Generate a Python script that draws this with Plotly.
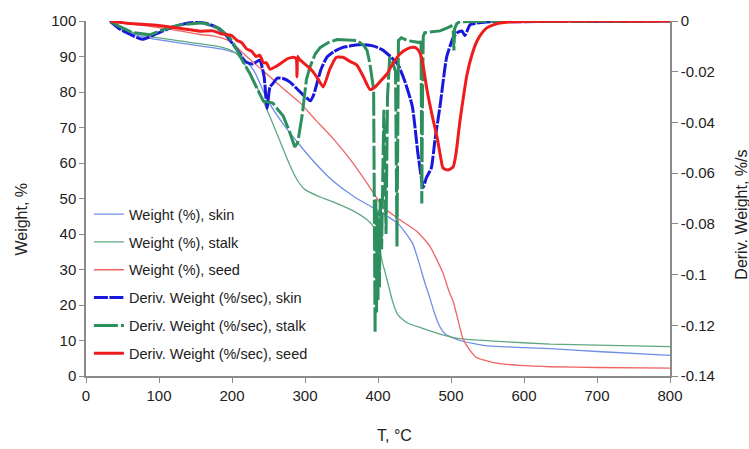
import plotly.graph_objects as go

# ---------------- data ----------------
# Weight (%) curves
T_skin_w = [33, 50, 83, 142, 188, 211, 230, 248, 270, 293, 316, 338, 368, 400, 427, 447, 456, 464, 471, 478, 485, 492, 502, 512, 530, 550, 600, 636, 700, 800]
W_skin = [99.5, 97.5, 95.3, 93.4, 92.0, 90.4, 86.0, 78.0, 71.0, 65.0, 59.5, 55.0, 50.4, 46.6, 43.0, 37.5, 32.0, 26.4, 22.0, 17.3, 13.8, 11.8, 10.8, 10.0, 9.2, 8.5, 8.0, 7.7, 6.9, 5.8]

T_stalk_w = [33, 50, 83, 142, 188, 205, 220, 235, 248, 262, 279, 290, 300, 320, 345, 368, 385, 394, 398, 402, 406, 410, 415, 420, 427, 440, 460, 490, 512, 560, 636, 700, 800]
W_stalk = [99.5, 97.8, 95.8, 94.0, 92.5, 91.0, 87.0, 81.0, 75.0, 68.0, 59.5, 55.0, 52.5, 50.5, 48.5, 46.3, 44.0, 42.0, 39.5, 36.0, 32.0, 29.0, 25.0, 21.0, 17.3, 15.0, 13.5, 11.5, 10.5, 9.8, 9.0, 8.7, 8.3]

T_seed_w = [33, 83, 120, 156, 174, 197, 220, 248, 270, 293, 315, 338, 362, 386, 407, 430, 453, 471, 480, 489, 497, 503, 510, 516, 525, 535, 550, 567, 600, 636, 700, 800]
W_seed = [99.8, 98.6, 97.5, 96.2, 95.8, 94.3, 90.0, 85.0, 81.0, 77.0, 72.0, 67.0, 61.0, 54.0, 47.6, 44.0, 40.8, 36.6, 33.0, 29.0, 24.0, 21.0, 15.5, 10.7, 7.5, 5.2, 4.2, 3.5, 2.9, 2.6, 2.4, 2.2]

# Derivative weight (%/sec) curves
T_skin_d = [33, 45, 60, 77, 95, 119, 140, 152, 165, 179, 190, 201, 210, 218, 228, 238, 244, 248, 252, 256, 262, 270, 279, 290, 297, 303, 307, 312, 316, 322, 330, 340, 352, 365, 379, 393, 405, 415, 427, 437, 447, 455, 462, 466, 473, 478, 485, 494, 503, 509, 515, 519, 522, 526, 535, 549, 570, 600, 650, 700, 750, 800]
D_skin = [0.0, -0.003, -0.0052, -0.0072, -0.0052, -0.0023, -0.0008, -0.0006, -0.001, -0.0025, -0.005, -0.009, -0.0125, -0.016, -0.017, -0.0155, -0.022, -0.0345, -0.026, -0.0247, -0.0225, -0.0227, -0.024, -0.027, -0.029, -0.0305, -0.0315, -0.029, -0.025, -0.019, -0.0143, -0.012, -0.0104, -0.0097, -0.0093, -0.0098, -0.0112, -0.0135, -0.017, -0.024, -0.0336, -0.053, -0.0656, -0.062, -0.058, -0.047, -0.0335, -0.0143, -0.0066, -0.0045, -0.0039, -0.0058, -0.004, -0.0015, -0.0008, -0.0004, -0.0002, -0.0003, -0.0001, -0.0002, -0.0001, 0.0]

T_stalk_d = [33, 45, 64, 88, 105, 129, 160, 183, 197, 206, 215, 225, 235, 243, 250, 256, 263, 270, 278, 286, 290, 296, 302, 307, 314, 321, 332, 344, 358, 371, 380, 385, 389, 392, 394, 396, 397, 398, 399, 400, 401, 402, 403, 405, 406, 408, 411, 413, 416, 420, 424, 426, 428, 432, 440, 450, 457, 459, 460, 461, 462, 464, 475, 485, 495, 500, 503, 504, 505, 508, 512, 530, 560, 600, 650, 700, 750, 800]
D_stalk = [0.0, -0.002, -0.0046, -0.0054, -0.0035, -0.0015, -0.0007, -0.003, -0.0066, -0.011, -0.016, -0.021, -0.027, -0.0316, -0.032, -0.0324, -0.035, -0.0374, -0.043, -0.0497, -0.048, -0.0374, -0.023, -0.018, -0.013, -0.0104, -0.0085, -0.0073, -0.0075, -0.0077, -0.0095, -0.0116, -0.017, -0.023, -0.027, -0.123, -0.07, -0.115, -0.075, -0.11, -0.08, -0.105, -0.07, -0.09, -0.068, -0.035, -0.084, -0.03, -0.0143, -0.016, -0.02, -0.089, -0.0077, -0.0066, -0.0077, -0.008, -0.0085, -0.008, -0.072, -0.03, -0.006, -0.0046, -0.0043, -0.0039, -0.0027, -0.002, -0.004, -0.0116, -0.003, -0.001, -0.0003, -0.0002, -0.0001, -0.0002, -0.0001, -0.0001, 0.0, 0.0]

T_seed_d = [33, 60, 88, 105, 130, 156, 174, 185, 193, 200, 207, 213, 220, 227, 233, 238, 243, 247, 252, 260, 268, 275, 284, 288, 289, 290, 292, 300, 308, 316, 325, 334, 343, 352, 362, 371, 380, 389, 396, 404, 412, 420, 430, 440, 448, 453, 458, 462, 467, 474, 481, 486, 489, 496, 503, 507, 512, 517, 522, 529, 536, 543, 549, 558, 567, 580, 600, 650, 700, 750, 800]
D_seed = [0.0, -0.001, -0.0015, -0.002, -0.003, -0.004, -0.0039, -0.005, -0.0054, -0.0058, -0.0077, -0.0085, -0.011, -0.012, -0.014, -0.0135, -0.0165, -0.0165, -0.019, -0.018, -0.0165, -0.015, -0.0143, -0.015, -0.022, -0.014, -0.015, -0.017, -0.019, -0.022, -0.026, -0.019, -0.0143, -0.0143, -0.016, -0.0174, -0.022, -0.027, -0.026, -0.0235, -0.021, -0.017, -0.013, -0.011, -0.0104, -0.0108, -0.013, -0.018, -0.027, -0.037, -0.046, -0.054, -0.058, -0.0588, -0.0575, -0.052, -0.040, -0.030, -0.021, -0.013, -0.0077, -0.0045, -0.0027, -0.0015, -0.0008, -0.0004, -0.0002, -0.0001, 0.0, -0.0001, 0.0]

# tick labels
x_ticks = [0, 100, 200, 300, 400, 500, 600, 700, 800]
y_ticks = [0, 10, 20, 30, 40, 50, 60, 70, 80, 90, 100]
y2_ticks = [0, -0.02, -0.04, -0.06, -0.08, -0.1, -0.12, -0.14]
y2_labels = ["0", "-0.02", "-0.04", "-0.06", "-0.08", "-0.1", "-0.12", "-0.14"]

names = ["Weight (%), skin", "Weight (%), stalk", "Weight (%), seed",
         "Deriv. Weight (%/sec), skin", "Deriv. Weight (%/sec), stalk", "Deriv. Weight (%/sec), seed"]

# ---------------- figure ----------------
FONT = "Liberation Sans, Arial, sans-serif"
TXT = "#222222"
AX = "#8a8a8a"

fig = go.Figure()
thin = [("#6f8fe6", T_skin_w, W_skin), ("#5fa882", T_stalk_w, W_stalk), ("#f06464", T_seed_w, W_seed)]
for i, (c, t, w) in enumerate(thin):
    fig.add_trace(go.Scatter(x=t, y=w, mode="lines", name=names[i], legendgroup=f"g{i}",
                             line=dict(color=c, width=1.3, shape="spline", smoothing=0.6)))

fig.add_trace(go.Scatter(x=T_skin_d, y=D_skin, mode="lines", name=names[3], yaxis="y2", legendgroup="g3",
                         line=dict(color="#1818dc", width=3, dash="14px,1.5px", shape="spline", smoothing=0.5)))
fig.add_trace(go.Scatter(x=T_stalk_d, y=D_stalk, mode="lines", name=names[4], yaxis="y2", legendgroup="g4",
                         line=dict(color="#2e8f5e", width=3, dash="24px,3px")))
fig.add_trace(go.Scatter(x=T_seed_d, y=D_seed, mode="lines", name=names[5], yaxis="y2", legendgroup="g5",
                         line=dict(color="#ee1c1c", width=3, shape="spline", smoothing=0.5)))

tickfont = dict(family=FONT, size=15, color=TXT)
fig.update_layout(
    width=749, height=449,
    margin=dict(l=86, r=79, t=13, b=73),
    paper_bgcolor="white", plot_bgcolor="white",
    showlegend=True,
    legend=dict(x=0.005, y=0.501, xanchor="left", yanchor="top", bgcolor="rgba(0,0,0,0)",
                font=dict(family=FONT, size=14.5, color=TXT), tracegroupgap=6, itemwidth=30),
    xaxis=dict(range=[0, 800], tickvals=x_ticks, showgrid=False, zeroline=False,
               showline=True, linecolor=AX, linewidth=1.5, ticks="outside", ticklen=5, tickcolor=AX,
               tickfont=tickfont),
    yaxis=dict(range=[0, 100], tickvals=y_ticks, showgrid=False, zeroline=False,
               showline=True, linecolor=AX, linewidth=1.5, ticks="outside", ticklen=5, tickcolor=AX,
               tickfont=tickfont),
    yaxis2=dict(range=[-0.14, 0], tickvals=y2_ticks, ticktext=y2_labels, overlaying="y", side="right",
                showgrid=False, zeroline=False, showline=True, linecolor=AX, linewidth=1.5,
                ticks="outside", ticklen=6, tickcolor=AX, tickfont=tickfont),
    annotations=[
        dict(text="Weight, %", x=-0.1096, y=0.4435, xref="paper", yref="paper", textangle=-90,
             showarrow=False, xanchor="center", yanchor="middle", font=dict(family=FONT, size=16, color=TXT)),
        dict(text="Deriv. Weight, %/s", x=1.1233, y=0.4545, xref="paper", yref="paper", textangle=-90,
             showarrow=False, xanchor="center", yanchor="middle", font=dict(family=FONT, size=16, color=TXT)),
        dict(text="T, °C", x=0.529, y=-0.168, xref="paper", yref="paper",
             showarrow=False, xanchor="center", yanchor="middle", font=dict(family=FONT, size=16, color=TXT)),
    ],
)

fig.write_html("out.html")
